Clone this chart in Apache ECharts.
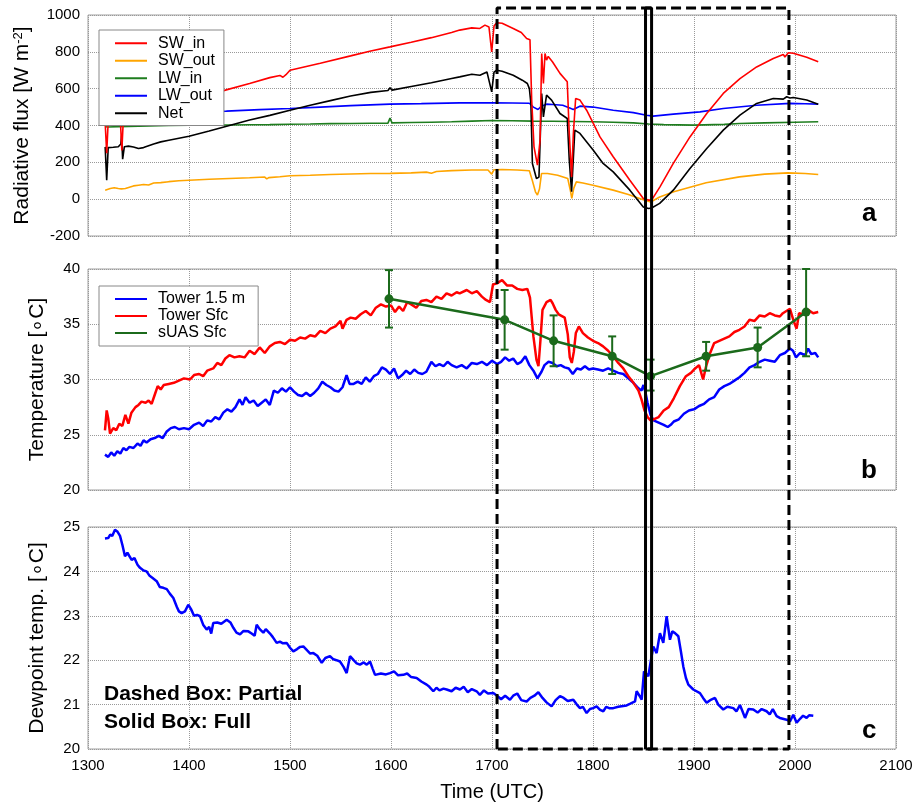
<!DOCTYPE html>
<html>
<head>
<meta charset="utf-8">
<script src="https://cdn.jsdelivr.net/npm/echarts@6/dist/echarts.min.js"></script>
<style>
html,body{margin:0;padding:0;background:#fff;}
#chart{width:919px;height:807px;}
</style>
</head>
<body>
<div id="chart"></div>
<script>
// ---------- DATA (time in UTC, HHMM) ----------
const xRange = [1300, 2100];
const fluxRange = [-200, 1000];
const tempRange = [20, 40];
const dewRange = [20, 25];

const swIn = [[1317,415],[1318.5,250],[1320,420],[1332,430],[1333.5,265],[1335,435],[1350,455],[1380,500],[1410,550],[1436,592],[1460,628],[1480,660],[1490,672],[1493,662],[1496,676],[1500,700],[1530,738],[1560,778],[1580,805],[1599,827],[1620,852],[1640,877],[1660,905],[1668,918],[1680,930],[1688,927],[1693,945],[1697,935],[1699.7,800],[1702,940],[1704.6,958],[1710,955],[1721,927],[1729,905],[1734.3,872],[1737.6,865],[1739.3,538],[1741.6,284],[1745,185],[1747.6,320],[1749.2,791],[1750.9,628],[1752.5,791],[1754,755],[1755.7,775],[1760,745],[1767.3,683],[1774.5,637],[1776.5,357],[1778.8,121],[1780.5,350],[1782.8,547],[1787.1,538],[1793.7,483],[1800.3,411],[1806.9,338],[1820,230],[1836.5,103],[1849.8,4],[1854.8,-5],[1858,-5],[1866.3,67],[1879.5,194],[1896,338],[1912.6,465],[1929,574],[1945.5,655],[1962,718],[1978.5,764],[1988.4,786],[1990,772],[1993.4,795],[1998.3,792],[2011.6,770],[2023,746]];
const swOut = [[1317,49],[1322,58],[1326,62],[1330,58],[1333,56],[1337,58],[1341,65],[1345,72],[1350,76],[1355,80],[1360,77],[1365,88],[1372,90],[1380,95],[1390,100],[1400,103],[1420,108],[1440,112],[1460,116],[1475,120],[1477,110],[1479,117],[1490,122],[1500,127],[1520,130],[1540,134],[1560,137],[1580,139],[1599,140],[1620,143],[1635,147],[1640,141],[1645,150],[1660,155],[1680,158],[1696,158],[1699.7,136],[1702,160],[1710,161],[1725,158],[1737,154],[1740,100],[1743,40],[1745,22],[1747,55],[1749,139],[1755,139],[1765,130],[1775,112],[1777.5,50],[1779,4],[1781,60],[1783.5,94],[1790,88],[1800,76],[1820,49],[1835,25],[1849,-2],[1854.8,-11],[1857,-15],[1866,12],[1880,40],[1912,89],[1945,121],[1970,136],[1993,143],[2010,139],[2023,134]];
const lwIn = [[1317,393],[1320,392],[1330,394],[1340,395],[1360,398],[1380,400],[1400,401],[1420,402],[1440,403],[1460,404],[1480,405],[1500,407],[1520,408],[1540,410],[1560,411],[1580,412],[1597,413],[1599,440],[1601,414],[1620,416],[1640,418],[1660,420],[1680,424],[1700,427],[1720,426],[1740,424],[1760,423],[1780,422],[1800,420],[1820,418],[1840,414],[1855,408],[1870,405],[1900,402],[1930,406],[1945,411],[1970,414],[2000,418],[2023,420]];
const lwOut = [[1317,445],[1340,455],[1370,465],[1400,472],[1437,478],[1470,486],[1500,492],[1530,500],[1560,508],[1599,516],[1630,519],[1668,523],[1700,523],[1720,522],[1737,521],[1741,500],[1745.5,487],[1749,505],[1754,516],[1760,514],[1770,510],[1777,495],[1780.5,487],[1787,505],[1800,500],[1820,483],[1840,470],[1853,456],[1859.6,451],[1879.5,462],[1905.9,474],[1929,492],[1962,510],[1995,520],[2010,518],[2023,516]];
const netRad = [[1317,284],[1318.5,103],[1320,280],[1325,282],[1330,285],[1332.5,300],[1333.3,347],[1334.3,217],[1336,285],[1340,288],[1345,283],[1350,275],[1355,280],[1360,290],[1365,300],[1372,311],[1380,320],[1400,342],[1420,370],[1440,400],[1460,430],[1480,455],[1500,483],[1520,510],[1540,535],[1560,560],[1580,580],[1597,590],[1599,605],[1601,592],[1620,612],[1640,632],[1660,655],[1668,664],[1680,678],[1688,673],[1695,691],[1699.7,583],[1702,690],[1704.6,700],[1710,695],[1721,673],[1730,646],[1735,628],[1737,600],[1738.5,520],[1740,194],[1744,112],[1746.5,120],[1749.2,574],[1750.9,447],[1754,565],[1759,538],[1767.3,465],[1774.5,438],[1776.5,212],[1778.8,40],[1782,375],[1787.1,357],[1800.3,266],[1810,194],[1820,148],[1836.5,49],[1849.8,-42],[1855,-51],[1858,-48],[1866,-23],[1879.5,49],[1896,167],[1912.6,275],[1929,375],[1945.5,456],[1962,520],[1978.5,547],[1988.4,543],[1991.8,556],[1995,549],[1998.3,552],[2011.6,538],[2023,516]];

const tower15 = [[1316.8,23.2],[1320,23.0],[1323,23.4],[1326,23.1],[1329,23.5],[1332,23.3],[1335,23.8],[1338,23.6],[1341,23.9],[1345,23.8],[1349,24.2],[1352,24.0],[1355,24.5],[1358,24.3],[1362,24.6],[1366,24.7],[1370,24.9],[1374,24.7],[1378,25.3],[1382,25.6],[1386,25.7],[1390,25.5],[1395,25.6],[1400,25.5],[1405,25.9],[1410,26.1],[1414,25.8],[1418,26.3],[1422,26.2],[1426,26.6],[1430,26.4],[1434,27.0],[1438,27.3],[1442,27.1],[1446,27.5],[1450,28.2],[1453,27.7],[1456,28.4],[1460,27.9],[1464,28.1],[1468,27.6],[1472,27.9],[1476,28.2],[1480,27.7],[1484,29.0],[1488,28.8],[1492,29.2],[1496,28.9],[1500,29.3],[1504,28.9],[1508,28.6],[1512,28.5],[1516,28.8],[1520,28.5],[1524,28.8],[1528,29.2],[1532,29.8],[1536,29.5],[1540,29.3],[1544,29.0],[1548,28.9],[1552,29.3],[1556,30.4],[1559,29.6],[1563,29.6],[1567,29.8],[1571,29.6],[1575,30.2],[1579,29.8],[1583,30.3],[1587,30.5],[1591,31.1],[1595,30.9],[1599,30.5],[1603,31.0],[1607,30.1],[1611,30.4],[1615,30.8],[1619,30.5],[1623,30.9],[1627,30.6],[1631,30.5],[1635,30.7],[1640,31.6],[1644,31.2],[1648,31.4],[1652,31.2],[1656,31.6],[1660,31.3],[1665,31.1],[1670,31.3],[1675,31.0],[1680,31.5],[1685,31.4],[1690,31.6],[1695,31.3],[1700,31.7],[1705,31.4],[1709,31.6],[1713,32.0],[1717,31.7],[1721,31.9],[1725,31.4],[1729,31.6],[1733,32.1],[1737,31.3],[1741,30.8],[1745,30.1],[1749,30.7],[1752,31.3],[1756,31.6],[1760,31.5],[1764,31.2],[1768,31.3],[1772,31.1],[1776,31.0],[1780,30.5],[1784,31.0],[1788,30.9],[1792,31.2],[1796,30.9],[1800,31.0],[1805,30.9],[1810,30.8],[1815,31.0],[1820,30.8],[1825,30.6],[1830,30.5],[1835,30.1],[1840,29.7],[1845,29.2],[1848,29.0],[1850,29.5],[1852,28.8],[1854,27.9],[1857,26.8],[1860,26.3],[1865,26.1],[1870,25.9],[1874,25.7],[1877,25.9],[1880,26.2],[1885,26.4],[1890,26.9],[1895,27.2],[1900,27.3],[1905,27.6],[1910,27.8],[1915,28.2],[1920,28.4],[1925,29.1],[1930,29.4],[1935,29.6],[1940,29.9],[1945,30.2],[1950,30.6],[1955,31.1],[1960,31.3],[1965,31.6],[1970,31.8],[1975,31.7],[1980,31.6],[1985,32.2],[1990,32.4],[1995,32.8],[1998,32.6],[2001,32.0],[2005,32.4],[2010,32.2],[2013,32.8],[2016,32.3],[2020,32.4],[2023,32.0]];
const towerSfc = [[1316.8,25.4],[1318.5,27.2],[1320,26.5],[1321.8,25.1],[1325,25.6],[1328,25.4],[1331,26.0],[1334,25.8],[1337,26.8],[1340,26.0],[1343,27.0],[1347,27.5],[1350,27.7],[1353,28.0],[1357,27.9],[1360,28.1],[1363,27.8],[1366,28.6],[1369,29.4],[1372,29.1],[1375,29.5],[1380,29.6],[1385,29.7],[1390,29.9],[1395,30.1],[1401,30.0],[1405,30.4],[1410,30.5],[1414,30.3],[1418,30.8],[1424,31.0],[1428,31.5],[1432,31.3],[1436,31.9],[1440,32.2],[1445,32.0],[1450,32.1],[1455,32.0],[1460,32.6],[1465,32.3],[1470,32.9],[1475,32.4],[1480,33.0],[1485,33.3],[1490,33.4],[1495,33.2],[1500,33.6],[1505,33.5],[1510,33.8],[1515,33.7],[1520,34.0],[1525,33.9],[1530,34.4],[1535,34.2],[1540,34.6],[1545,34.8],[1550,35.3],[1552,34.6],[1556,35.4],[1560,35.6],[1565,35.5],[1570,35.9],[1575,36.2],[1580,35.8],[1585,36.5],[1590,36.8],[1595,36.6],[1600,36.7],[1604,36.1],[1608,36.6],[1612,36.2],[1616,37.0],[1620,36.8],[1625,36.5],[1630,37.1],[1635,37.2],[1640,37.0],[1645,37.5],[1650,37.3],[1655,37.8],[1660,37.6],[1665,37.9],[1668,37.8],[1675,38.1],[1680,37.8],[1685,38.0],[1690,37.5],[1694,37.2],[1698,37.0],[1701,38.6],[1705,38.7],[1710,39.0],[1715,38.5],[1720,38.5],[1725,38.2],[1730,38.1],[1735,38.2],[1737.6,37.4],[1741,33.9],[1744,31.8],[1746,31.2],[1748,33.6],[1750,36.3],[1754,37.0],[1758,37.2],[1760,36.9],[1763,36.3],[1766,35.9],[1772,35.6],[1775,34.1],[1777,32.0],[1779,31.5],[1781,32.5],[1783,34.2],[1786,34.8],[1790,34.2],[1795,33.8],[1800,33.5],[1805,33.3],[1810,33.0],[1815,32.6],[1820,32.1],[1825,31.5],[1830,31.0],[1835,30.3],[1840,29.7],[1845,29.0],[1848,28.2],[1851,27.2],[1854,26.6],[1857,26.3],[1860,26.4],[1865,26.6],[1870,27.2],[1875,27.5],[1880,28.3],[1886,29.4],[1892,30.3],[1897,30.6],[1900,30.9],[1905,31.3],[1909,30.0],[1912,31.2],[1916,32.4],[1920,33.3],[1925,33.5],[1930,33.7],[1935,33.9],[1940,34.3],[1945,34.5],[1950,34.8],[1955,35.4],[1960,35.3],[1965,35.8],[1970,35.7],[1975,36.0],[1980,35.8],[1985,35.7],[1988,36.0],[1995,36.4],[1999,35.2],[2001.6,34.6],[2004,36.0],[2008,35.9],[2013,36.3],[2018,36.0],[2023,36.1]];

const suasTime = [1598, 1712.5, 1761, 1819, 1857, 1912, 1963, 2011];
const suasMean = [37.3, 35.4, 33.5, 32.1, 30.3, 32.1, 32.9, 36.1];
const suasLow  = [34.7, 32.7, 31.2, 30.5, 29.0, 30.8, 31.1, 32.1];
const suasHigh = [39.9, 38.1, 35.8, 33.9, 31.8, 33.4, 34.7, 40.0];

const dewpoint = [[1316.8,24.74],[1320,24.75],[1322,24.83],[1324,24.8],[1326.7,24.94],[1329,24.9],[1331.7,24.8],[1334,24.6],[1336.6,24.34],[1339,24.42],[1343.2,24.26],[1346,24.3],[1349,24.15],[1351.5,24.08],[1355,24.02],[1358,24.0],[1361,23.9],[1364,23.85],[1368,23.78],[1371,23.65],[1374.6,23.63],[1378,23.6],[1381,23.5],[1384.5,23.4],[1388,23.2],[1390,23.1],[1392.7,23.06],[1396,23.1],[1399.3,23.25],[1402,23.15],[1405,23.0],[1408,23.02],[1410.9,22.99],[1414,22.8],[1417.5,22.69],[1420,22.75],[1422,22.6],[1424,22.84],[1428,22.85],[1432,22.82],[1437.3,22.91],[1441,22.85],[1443.9,22.73],[1447,22.62],[1450.5,22.58],[1454,22.66],[1458.7,22.65],[1462,22.6],[1465,22.55],[1467,22.8],[1470,22.7],[1473.6,22.62],[1476,22.7],[1480.2,22.6],[1483,22.52],[1486.8,22.39],[1490,22.42],[1493,22.38],[1496.7,22.39],[1500,22.28],[1503.3,22.2],[1507,22.25],[1510,22.3],[1513.2,22.31],[1517,22.22],[1520,22.15],[1523.1,22.16],[1527,22.1],[1531.4,21.94],[1535,22.05],[1539.6,22.09],[1543,22.02],[1546,22.0],[1549.5,21.97],[1553,21.85],[1556.1,21.71],[1559.4,22.09],[1563,22.0],[1566,21.93],[1569.3,21.9],[1573,21.95],[1576,21.9],[1579.2,21.97],[1582,21.8],[1584.2,21.67],[1590,21.7],[1595,21.68],[1599,21.71],[1603,21.75],[1607,21.66],[1612.2,21.67],[1616,21.7],[1620,21.62],[1625.4,21.6],[1630,21.52],[1635.3,21.45],[1638,21.4],[1641.9,21.3],[1645,21.38],[1648,21.32],[1652,21.36],[1655.1,21.34],[1660,21.3],[1664,21.38],[1668.3,21.34],[1672,21.4],[1676,21.28],[1680,21.35],[1684.8,21.3],[1688,21.22],[1692,21.32],[1696,21.25],[1701.3,21.26],[1705,21.2],[1709,21.12],[1713,21.2],[1717.8,21.11],[1721,21.2],[1725,21.25],[1729,21.1],[1734.3,21.07],[1738,21.15],[1742,21.2],[1745.9,21.28],[1750,21.15],[1754,21.05],[1759,20.96],[1763,21.1],[1767.3,21.19],[1771,21.15],[1775,21.08],[1780.5,21.11],[1784,21.0],[1787.1,20.92],[1790,20.95],[1793.7,20.81],[1797,20.9],[1800,20.92],[1803.6,20.96],[1807,20.88],[1810.2,20.85],[1813,20.95],[1816,20.92],[1820.1,20.92],[1825,20.95],[1830,20.97],[1833.3,20.98],[1837,21.02],[1841.6,21.07],[1843.2,21.3],[1846,21.2],[1848.2,21.11],[1850.5,21.75],[1852.5,21.7],[1854.8,21.64],[1857,21.95],[1859.7,22.31],[1863,22.16],[1866.3,22.61],[1869.6,22.39],[1872.9,22.99],[1876.2,22.46],[1878.5,22.65],[1881.2,22.61],[1884.5,22.54],[1887,22.2],[1889.4,21.86],[1892,21.6],[1894.4,21.45],[1899.3,21.34],[1905.9,21.26],[1909,21.15],[1912.5,21.04],[1916,21.1],[1920.8,21.15],[1924,21.0],[1929,20.89],[1933,20.95],[1938.9,20.92],[1942,20.85],[1945.5,20.99],[1948,20.85],[1950.5,20.7],[1954,20.9],[1958.7,20.89],[1963,20.82],[1967,20.9],[1971.9,20.85],[1975,20.78],[1978,20.9],[1981.8,20.74],[1985,20.7],[1991.7,20.66],[1995,20.62],[1998.3,20.77],[2001.6,20.59],[2005,20.68],[2008,20.75],[2011.5,20.7],[2014,20.76],[2018.1,20.75]];

const partialWindow = [1705, 1994];
const fullWindow = [1852, 1858];

// ---------- CHART ----------
const FONT = 'Liberation Sans, Arial, Helvetica, sans-serif';
const chart = echarts.init(document.getElementById('chart'), null, {renderer: 'canvas'});

const L = 88, R = 23;
const grids = [
  {left: L, right: R, top: 15, height: 221},
  {left: L, right: R, top: 269, height: 221},
  {left: L, right: R, top: 527, height: 222},
  {left: L, right: R, top: 8, bottom: 58}
];
grids.slice(0,3).forEach(g => { g.show = true; g.borderColor = '#a0a0a0'; g.borderWidth = 1; });

const plain = v => String(v);

function xAxisFor(i, showLabels) {
  return {
    type: 'value', gridIndex: i, min: xRange[0], max: xRange[1], interval: 100,
    axisLine: {show: false}, axisTick: {show: false},
    axisLabel: {show: showLabels, color: '#000', fontSize: 15, fontFamily: FONT, margin: 9, formatter: plain},
    splitLine: {show: true, lineStyle: {type: 'dotted', color: '#999', width: 1}},
    name: showLabels ? 'Time (UTC)' : '', nameLocation: 'middle', nameGap: 33,
    nameTextStyle: {color: '#000', fontSize: 20, fontFamily: FONT}
  };
}
function yAxisFor(i, range, step, name, gap) {
  return {
    type: 'value', gridIndex: i, min: range[0], max: range[1], interval: step,
    axisLine: {show: false}, axisTick: {show: false},
    axisLabel: {color: '#000', fontSize: 15, fontFamily: FONT, margin: 8, formatter: plain},
    splitLine: {show: true, lineStyle: {type: 'dotted', color: '#999', width: 1}},
    name: name, nameLocation: 'middle', nameRotate: 90, nameGap: gap,
    nameTextStyle: {color: '#000', fontSize: 21, fontFamily: FONT,
      rich: {n: {fontSize: 21, fontFamily: FONT, color: '#000'},
             s: {fontSize: 13, fontFamily: FONT, color: '#000', verticalAlign: 'top', padding: [0,0,8,0]}}}
  };
}

const lineBase = (name, data, color, width, xi) => ({
  name, type: 'line', data, xAxisIndex: xi, yAxisIndex: xi,
  symbol: 'none', showSymbol: false, smooth: false, animation: false,
  lineStyle: {color, width}, itemStyle: {color}
});

const suasGreen = '#1b6a1b';
const suasData = suasTime.map((t, i) => [t, suasMean[i], suasLow[i], suasHigh[i]]);

function boxPath(w) { return [[w[0],0],[w[0],1],[w[1],1],[w[1],0],[w[0],0]]; }

const option = {
  animation: false,
  backgroundColor: '#fff',
  textStyle: {fontFamily: FONT},
  grid: grids,
  xAxis: [xAxisFor(0,false), xAxisFor(1,false), xAxisFor(2,true),
          {type:'value', gridIndex:3, min:xRange[0], max:xRange[1], show:false}],
  yAxis: [yAxisFor(0, fluxRange, 200, '{n|Radiative flux [W m}{s|-2}{n|]}', 55),
          yAxisFor(1, tempRange, 5, 'Temperature [\u2218C]', 40),
          yAxisFor(2, dewRange, 1, 'Dewpoint temp. [\u2218C]', 40),
          {type:'value', gridIndex:3, min:0, max:1, show:false}],
  legend: [
    {data: ['SW_in','SW_out','LW_in','LW_out','Net'], orient: 'vertical', left: 99, top: 30,
     icon: 'rect', itemWidth: 32, itemHeight: 2, itemGap: 1,
     padding: [5, 9, 4, 16], backgroundColor: '#fff', borderColor: '#888', borderWidth: 1,
     textStyle: {fontSize: 16, color: '#000', fontFamily: FONT, lineHeight: 16.5, padding: [0,0,0,6]},
     selectedMode: false},
    {data: ['Tower 1.5 m','Tower Sfc','sUAS Sfc'], orient: 'vertical', left: 99, top: 286,
     icon: 'rect', itemWidth: 32, itemHeight: 2, itemGap: 1,
     padding: [5, 13, 5, 16], backgroundColor: '#fff', borderColor: '#888', borderWidth: 1,
     textStyle: {fontSize: 16, color: '#000', fontFamily: FONT, lineHeight: 16, padding: [0,0,0,6]},
     selectedMode: false}
  ],
  graphic: [
    {type:'text', left: 862, top: 201, style:{text:'a', font:'bold 26px ' + FONT, fill:'#000'}},
    {type:'text', left: 861, top: 458, style:{text:'b', font:'bold 26px ' + FONT, fill:'#000'}},
    {type:'text', left: 862, top: 718, style:{text:'c', font:'bold 26px ' + FONT, fill:'#000'}},
    {type:'text', left: 104, top: 684, style:{text:'Dashed Box: Partial', font:'bold 21px ' + FONT, fill:'#000'}},
    {type:'text', left: 104, top: 712, style:{text:'Solid Box: Full', font:'bold 21px ' + FONT, fill:'#000'}}
  ],
  series: [
    lineBase('LW_in', lwIn, '#1e7d1e', 1.6, 0),
    lineBase('LW_out', lwOut, '#0000ff', 1.6, 0),
    lineBase('SW_out', swOut, '#ffa500', 1.6, 0),
    lineBase('Net', netRad, '#000000', 1.6, 0),
    lineBase('SW_in', swIn, '#ff0000', 1.6, 0),
    lineBase('Tower 1.5 m', tower15, '#0000ff', 2.5, 1),
    lineBase('Tower Sfc', towerSfc, '#ff0000', 2.5, 1),
    {
      name: 'sUAS Sfc', type: 'line', xAxisIndex: 1, yAxisIndex: 1,
      data: suasData.map(d => [d[0], d[1]]),
      symbol: 'circle', symbolSize: 9, showSymbol: true,
      lineStyle: {color: suasGreen, width: 2.5}, itemStyle: {color: suasGreen}, z: 4
    },
    {
      type: 'custom', xAxisIndex: 1, yAxisIndex: 1, data: suasData, z: 4,
      encode: {x: 0, y: [1, 2, 3]},
      renderItem: function (params, api) {
        const t = api.value(0);
        const lo = api.coord([t, api.value(2)]);
        const hi = api.coord([t, api.value(3)]);
        const cap = 4;
        const st = {stroke: suasGreen, lineWidth: 2};
        return {type: 'group', children: [
          {type: 'line', shape: {x1: lo[0], y1: lo[1], x2: hi[0], y2: hi[1]}, style: st},
          {type: 'line', shape: {x1: lo[0]-cap, y1: lo[1], x2: lo[0]+cap, y2: lo[1]}, style: st},
          {type: 'line', shape: {x1: hi[0]-cap, y1: hi[1], x2: hi[0]+cap, y2: hi[1]}, style: st}
        ]};
      }
    },
    lineBase('Dewpoint', dewpoint, '#0000ff', 2.5, 2),
    {
      type: 'line', xAxisIndex: 3, yAxisIndex: 3, data: boxPath(partialWindow),
      symbol: 'none', clip: false, z: 10, silent: true,
      lineStyle: {color: '#000', width: 3, type: [10, 5]}
    },
    {
      type: 'line', xAxisIndex: 3, yAxisIndex: 3, data: boxPath(fullWindow),
      symbol: 'none', clip: false, z: 10, silent: true,
      lineStyle: {color: '#000', width: 3}
    }
  ]
};
chart.setOption(option);
</script>
</body>
</html>
